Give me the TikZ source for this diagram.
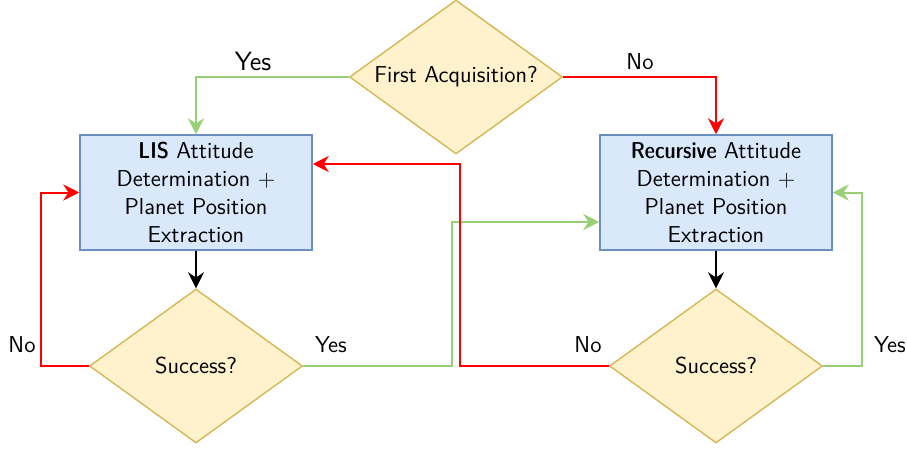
\documentclass[tikz,border=0pt]{standalone}
\usepackage{tikz}
\usetikzlibrary{arrows.meta,shapes.geometric,calc}
\definecolor{decfill}{HTML}{FFF2CC}
\definecolor{decline}{HTML}{D6B656}
\definecolor{procfill}{HTML}{DAE8FC}
\definecolor{procline}{HTML}{6C8EBF}
\definecolor{yesgreen}{HTML}{97D077}
\definecolor{nored}{HTML}{FF0000}
\newcommand{\keyword}[1]{{\fontseries{sbc}\selectfont #1}}
\tikzset{>={Stealth[length=8pt,width=8pt,inset=2.6pt]},
  font=\sffamily\fontsize{11.5}{13.9}\selectfont}

\begin{document}
\begin{tikzpicture}[x=0.5pt,y=-0.5pt,
  decision/.style={diamond,draw=decline,fill=decfill,line width=0.7pt,
    minimum width=106.5pt,minimum height=77pt,inner sep=0pt},
  process/.style={rectangle,draw=procline,fill=procfill,line width=0.75pt,
    minimum width=116pt,minimum height=57.5pt,align=center,inner sep=0pt},
  yesline/.style={draw=yesgreen,line width=1pt,->},
  noline/.style={draw=nored,line width=1pt,->},
  flow/.style={draw=black,line width=1pt,->}]
\useasboundingbox (0,0) rectangle (907,450);
\node[decision] (first) at (456,77) {\makebox[0pt]{First Acquisition?}};
\node[process] (lis) at (196,192.5) {\keyword{LIS} Attitude\\Determination +\\Planet Position\\Extraction};
\node[process] (rec) at (716,192.5) {\keyword{Recursive} Attitude\\Determination +\\Planet Position\\Extraction};
\node[decision] (succL) at (196,366) {\makebox[0pt]{Success?}};
\node[decision] (succR) at (716,366) {\makebox[0pt]{Success?}};
% labels
\node[font=\sffamily\fontsize{13.2}{15}\selectfont] (lblFirstYes) at (253,61) {Yes};
\node (lblFirstNo) at (640,62) {No};
\node (lblLNo) at (22,345) {No};
\node (lblLYes) at (331,345) {Yes};
\node (lblRNo) at (588,345) {No};
\node (lblRYes) at (890,345) {Yes};
% connectors
\path[yesline] (first.west) -| (lis.north);
\path[noline] (first.east) -| (rec.north);
\path[flow] (lis.south) -- (succL.north);
\path[flow] (rec.south) -- (succR.north);
\path[noline] (succL.west) -- ++(-48,0) |- (lis.west);
\path[yesline] (succL.east) -- ++(149,0) |- ($(rec.west)+(0,29.5)$);
\path[noline] (succR.west) -- ++(-149,0) |- ($(lis.east)+(0,-28.5)$);
\path[yesline] (succR.east) -- ++(39,0) |- (rec.east);
\end{tikzpicture}
\end{document}
